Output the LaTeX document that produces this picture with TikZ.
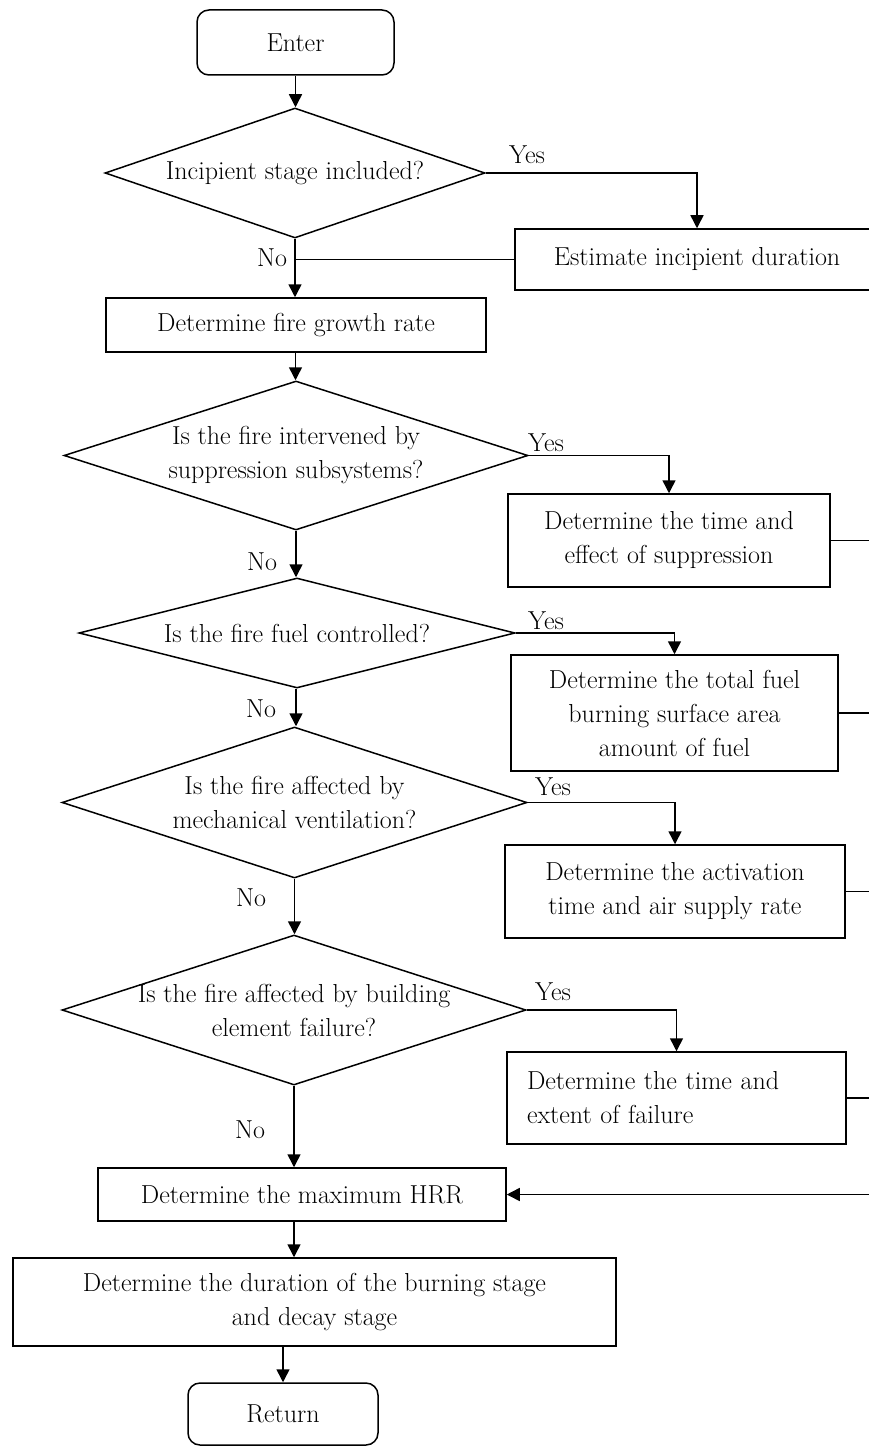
\documentclass[tikz,border=0pt]{standalone}
\usetikzlibrary{shapes.geometric,arrows.meta}
\tikzset{
  every node/.style={font=\fontsize{26}{34}\selectfont},
  arr/.style={-{Triangle[length=13pt,width=13pt]}},
  process/.style={draw, align=center, inner sep=4pt},
  terminal/.style={draw, rounded corners=12pt, align=center},
  decision/.style={draw, diamond, align=center, inner sep=-8pt, aspect=3.1},
  lbl/.style={inner sep=0pt}
}
\begin{document}
\begin{tikzpicture}[x=1pt, y=-1pt, line width=1.5pt]
    \clip (0,0) rectangle (869,1447);
    \node[terminal, minimum width=197pt, minimum height=65pt] (enter) at (295.5,42.5) {Enter};
    \node[decision, aspect=2.9, minimum width=380pt, minimum height=130pt] (incip) at (295,173) {Incipient stage included?};
    \node[process, minimum width=364pt, minimum height=61pt] (estim) at (697,259.5) {Estimate incipient duration};
    \node[process, minimum width=380pt, minimum height=54pt] (growth) at (296,325) {Determine fire growth rate};
    \node[decision, minimum width=464pt, minimum height=149pt] (suppq) at (296,455.5) {Is the fire intervened by\\suppression subsystems?};
    \node[process, minimum width=322pt, minimum height=93pt] (suppbox) at (669,540.5) {Determine the time and\\effect of suppression};
    \node[decision, aspect=3.9, minimum width=436pt, minimum height=110pt] (fuelq) at (297,633) {Is the fire fuel controlled?};
    \node[process, minimum width=327pt, minimum height=116pt] (fuelbox) at (674.5,713) {Determine the total fuel\\burning surface area\\amount of fuel};
    \node[decision, minimum width=465pt, minimum height=151pt] (ventq) at (294.5,802.5) {Is the fire affected by\\mechanical ventilation?};
    \node[process, minimum width=340pt, minimum height=93pt] (ventbox) at (675,891.5) {Determine the activation\\time and air supply rate};
    \node[decision, minimum width=464pt, minimum height=150pt] (failq) at (294,1010) {Is the fire affected by building\\element failure?};
    \node[process, text width=299pt, align=left, inner xsep=20pt, minimum height=92pt] (failbox) at (676.5,1098) {Determine the time and\\extent of failure};
    \node[process, minimum width=408pt, minimum height=53pt] (maxhrr) at (302,1194.5) {Determine the maximum HRR};
    \node[process, minimum width=603pt, minimum height=88pt] (durat) at (314.5,1302) {Determine the duration of the burning stage\\and decay stage};
    \node[terminal, minimum width=190pt, minimum height=62pt] (return) at (283,1414) {Return};
    \coordinate (rail) at (885,0);

    \draw[arr] (enter.south) -- (enter.south |- incip.north);
    \draw[arr] (incip.south) -- (incip.south |- growth.north);
    \draw[arr] (growth.south -| enter.south) -- (enter.south |- suppq.north);
    \draw[arr] (suppq.south) -- (suppq.south |- fuelq.north);
    \draw[arr] (fuelq.south -| suppq.south) -- (suppq.south |- ventq.north);
    \draw[arr] (ventq.south) -- (ventq.south |- failq.north);
    \draw[arr] (failq.south) -- (failq.south |- maxhrr.north);
    \draw[arr] (maxhrr.south -| failq.south) -- (failq.south |- durat.north);
    \draw[arr] (durat.south -| return.north) -- (return.north);

    \draw[arr] (incip.east) -| (estim.north);
    \draw[arr] (suppq.east) -| (suppbox.north);
    \draw[arr] (fuelq.east) -| (fuelbox.north);
    \draw[arr] (ventq.east) -| (ventbox.north);
    \draw[arr] (failq.east) -| (failbox.north);
    \draw (estim.west) -- (estim.west -| incip.south);

    \draw (suppbox.east) -- (suppbox.east -| rail);
    \draw (fuelbox.east) -- (fuelbox.east -| rail);
    \draw (ventbox.east) -- (ventbox.east -| rail);
    \draw (failbox.east) -- (failbox.east -| rail);
    \draw[arr] (rail |- suppbox.east) -- (rail |- maxhrr.east) -- (maxhrr.east);

    \node[lbl] (yes1) at (527,155) {Yes};
    \node[lbl] (yes2) at (546,443) {Yes};
    \node[lbl] (yes3) at (546,621) {Yes};
    \node[lbl] (yes4) at (553,787) {Yes};
    \node[lbl] (yes5) at (553,992) {Yes};
    \node[lbl] (no1) at (272,258) {No};
    \node[lbl] (no2) at (262,562) {No};
    \node[lbl] (no3) at (261,709) {No};
    \node[lbl] (no4) at (251,898) {No};
    \node[lbl] (no5) at (250,1130) {No};
\end{tikzpicture}
\end{document}
